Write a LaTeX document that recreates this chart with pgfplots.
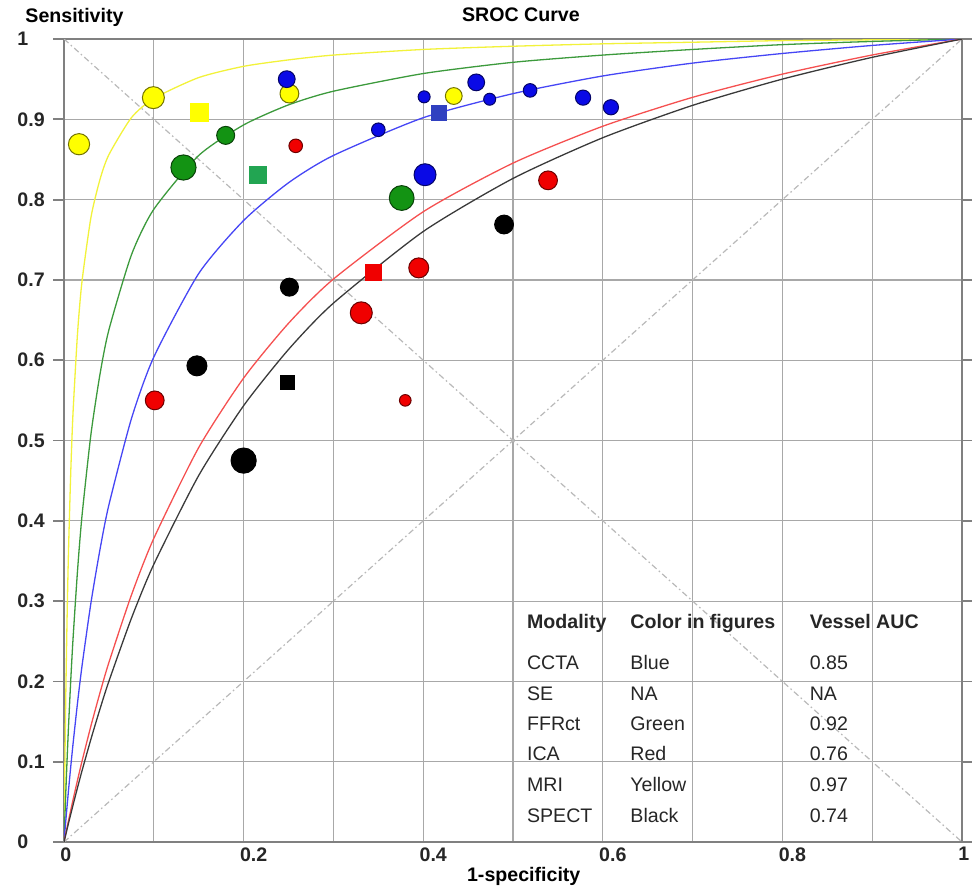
\documentclass[border=0pt]{standalone}
\usepackage{pgfplots}
\pgfplotsset{compat=1.18}
\usepackage{pgfplotstable}
\usepackage{fontspec}
\setmainfont{Liberation Sans}
\definecolor{cyel}{HTML}{FFFF00}
\definecolor{cyelL}{HTML}{F2F23A}
\definecolor{cgrn}{HTML}{139313}
\definecolor{cgrnL}{HTML}{3C9A3C}
\definecolor{cgrnS}{HTML}{22A552}
\definecolor{cblu}{HTML}{0A0AE6}
\definecolor{cbluL}{HTML}{4646F5}
\definecolor{cbluS}{HTML}{3040C0}
\definecolor{cred}{HTML}{F00000}
\definecolor{credL}{HTML}{F55050}
\definecolor{cblkL}{HTML}{3A3A3A}
\definecolor{cgrid}{HTML}{A8A8A8}
\definecolor{caxis}{HTML}{808080}

\pgfplotstableread{
x yel grn blu red blk
0 0 0 0 0 0
0.001 0.102 0.0324 0.01357 0.00545 0.00474
0.002 0.185 0.0628 0.0268 0.0108 0.00945
0.0035 0.2846 0.1051 0.0460 0.0189 0.01644
0.005 0.363 0.144 0.0646 0.0268 0.0234
0.0075 0.461 0.2017 0.0940 0.0397 0.0347
0.01 0.534 0.2525 0.1218 0.0524 0.0459
0.015 0.633 0.3374 0.1730 0.0769 0.0676
0.02 0.698 0.406 0.219 0.1005 0.0886
0.03 0.778 0.508 0.298 0.1448 0.1283
0.04 0.825 0.5822 0.3640 0.1857 0.1655
0.05 0.856 0.638 0.420 0.2237 0.2003
0.075 0.902 0.731 0.527 0.3074 0.2785
0.1 0.926 0.788 0.604 0.3782 0.3459
0.15 0.952 0.855 0.708 0.4913 0.4565
0.2 0.966 0.893 0.774 0.5778 0.5434
0.25 0.974 0.918 0.821 0.6460 0.6134
0.3 0.980 0.935 0.855 0.7011 0.6711
0.4 0.987 0.957 0.902 0.7849 0.7603
0.5 0.991 0.971 0.932 0.8455 0.8264
0.6 0.994 0.980 0.954 0.8914 0.8771
0.7 0.996 0.987 0.970 0.9274 0.9174
0.8 0.998 0.993 0.982 0.9563 0.9501
0.9 0.999 0.997 0.992 0.9801 0.9772
1 1 1 1 1 1
}\curves

\pgfplotstableread{
x y r
0.0167 0.869 5.3
0.0995 0.927 5.5
0.251 0.932 4.7
0.434 0.929 4.2
}\yelc

\pgfplotstableread{
x y r
0.248 0.950 4.2
0.350 0.887 3.4
0.401 0.928 3.0
0.459 0.946 4.2
0.474 0.925 3.0
0.519 0.936 3.4
0.578 0.927 3.8
0.609 0.915 3.8
0.402 0.831 5.5
}\bluc

\pgfplotstableread{
x y r
0.180 0.880 4.5
0.133 0.840 6.3
0.376 0.802 6.2
}\grnc

\pgfplotstableread{
x y r
0.258 0.867 3.4
0.395 0.715 5.0
0.539 0.824 4.7
0.331 0.659 5.5
0.101 0.550 4.7
0.380 0.550 2.9
}\redc

\pgfplotstableread{
x y r
0.490 0.769 4.7
0.251 0.691 4.5
0.148 0.593 5.0
0.200 0.475 6.3
}\blkc

\pgfplotsset{
  bubble/.style={scatter, only marks, mark=*,
    scatter/use mapped color={draw=#1!45!black, fill=#1},
    visualization depends on={\thisrow{r}\as\rad},
    scatter/@pre marker code/.append style={/tikz/mark size=\rad pt},
    mark options={line width=0.5pt}},
}

\begin{document}
\begin{tikzpicture}
\begin{axis}[
  scale only axis, width=449pt, height=401.5pt,
  xmin=0, xmax=1, ymin=0, ymax=1,
  clip mode=individual,
  xtick={0,0.1,0.2,0.3,0.4,0.5,0.6,0.7,0.8,0.9,1},
  xticklabels={0,,0.2,,0.4,,0.6,,0.8,,1},
  ytick={0,0.1,0.2,0.3,0.4,0.5,0.6,0.7,0.8,0.9,1},
  yticklabels={0,0.1,0.2,0.3,0.4,0.5,0.6,0.7,0.8,0.9,1},
  grid=major,
  major grid style={color=cgrid, line width=0.6pt},
  axis line style={color=caxis, line width=0.9pt},
  tick align=outside, major tick length=5.5pt,
  ytick style={color=caxis, line width=0.9pt},
  xtick style={draw=none},
  /pgf/number format/assume math mode=true,
  ticklabel style={font=\fontsize{9.8}{11.8}\selectfont\bfseries, inner sep=0pt, text=black!85},
  yticklabel style={anchor=west, xshift=-18pt},
  xticklabel style={anchor=north west, xshift=-2pt, yshift=3pt},
]
% diagonals
\addplot[color=gray!55, dash pattern=on 3pt off 1.5pt on 0.8pt off 1.5pt, line width=0.6pt] coordinates {(0,0) (1,1)};
\addplot[color=gray!55, dash pattern=on 3pt off 1.5pt on 0.8pt off 1.5pt, line width=0.6pt] coordinates {(0,1) (1,0)};
% SROC curves
\addplot[color=cyelL, line width=0.65pt, smooth, tension=0.4] table[x=x, y=yel] {\curves};
\addplot[color=cgrnL, line width=0.65pt, smooth, tension=0.4] table[x=x, y=grn] {\curves};
\addplot[color=cbluL, line width=0.65pt, smooth, tension=0.4] table[x=x, y=blu] {\curves};
\addplot[color=credL, line width=0.65pt, smooth, tension=0.4] table[x=x, y=red] {\curves};
\addplot[color=cblkL, line width=0.65pt, smooth, tension=0.4] table[x=x, y=blk] {\curves};
% study points
\addplot[bubble=cyel] table[x=x, y=y] {\yelc};
\addplot[bubble=cblu] table[x=x, y=y] {\bluc};
\addplot[bubble=cgrn] table[x=x, y=y] {\grnc};
\addplot[bubble=cred] table[x=x, y=y] {\redc};
\addplot[bubble=black] table[x=x, y=y] {\blkc};
% squares (summary points)
\addplot[only marks, mark=square*, mark size=4.5pt, mark options={draw=cyel, fill=cyel}] coordinates {(0.151,0.909)};
\addplot[only marks, mark=square*, mark size=3.75pt, mark options={draw=cbluS, fill=cbluS}] coordinates {(0.418,0.908)};
\addplot[only marks, mark=square*, mark size=4.2pt, mark options={draw=cgrnS, fill=cgrnS}] coordinates {(0.216,0.831)};
\addplot[only marks, mark=square*, mark size=4.0pt, mark options={draw=cred, fill=cred}] coordinates {(0.345,0.709)};
\addplot[only marks, mark=square*, mark size=3.5pt, mark options={draw=black, fill=black}] coordinates {(0.249,0.572)};

% titles
\node[anchor=base west, inner sep=0pt, font=\fontsize{9.8}{11.8}\selectfont\bfseries] at (axis cs:-0.0434,1.0203) {Sensitivity};
\node[anchor=base west, inner sep=0pt, font=\fontsize{9.8}{11.8}\selectfont\bfseries] at (axis cs:0.4429,1.0215) {SROC Curve};
\node[anchor=base west, inner sep=0pt, font=\fontsize{9.8}{11.8}\selectfont\bfseries] at (axis cs:0.4484,-0.0494) {1-specificity};

% table
\begin{scope}[every node/.style={anchor=base west, inner sep=0pt, font=\fontsize{9.8}{11.8}\selectfont, text=black!85}]
\node[font=\fontsize{9.8}{11.8}\selectfont\bfseries] at (axis cs:0.5152,0.266) {Modality};
\node[font=\fontsize{9.8}{11.8}\selectfont\bfseries] at (axis cs:0.6303,0.266) {Color in figures};
\node[font=\fontsize{9.8}{11.8}\selectfont\bfseries] at (axis cs:0.8300,0.266) {Vessel AUC};
\node at (axis cs:0.5152,0.2152) {CCTA};
\node at (axis cs:0.6303,0.2152) {Blue};
\node at (axis cs:0.8300,0.2152) {0.85};
\node at (axis cs:0.5152,0.1762) {SE};
\node at (axis cs:0.6303,0.1762) {NA};
\node at (axis cs:0.8300,0.1762) {NA};
\node at (axis cs:0.5152,0.1385) {FFRct};
\node at (axis cs:0.6303,0.1385) {Green};
\node at (axis cs:0.8300,0.1385) {0.92};
\node at (axis cs:0.5152,0.1015) {ICA};
\node at (axis cs:0.6303,0.1015) {Red};
\node at (axis cs:0.8300,0.1015) {0.76};
\node at (axis cs:0.5152,0.0629) {MRI};
\node at (axis cs:0.6303,0.0629) {Yellow};
\node at (axis cs:0.8300,0.0629) {0.97};
\node at (axis cs:0.5152,0.0247) {SPECT};
\node at (axis cs:0.6303,0.0247) {Black};
\node at (axis cs:0.8300,0.0247) {0.74};
\end{scope}

\coordinate (bbl) at (axis cs:-0.0713,-0.0585);
\coordinate (btr) at (axis cs:1.0111,1.0486);
\end{axis}
\pgfresetboundingbox
\useasboundingbox (bbl) rectangle (btr);
\end{tikzpicture}
\end{document}
